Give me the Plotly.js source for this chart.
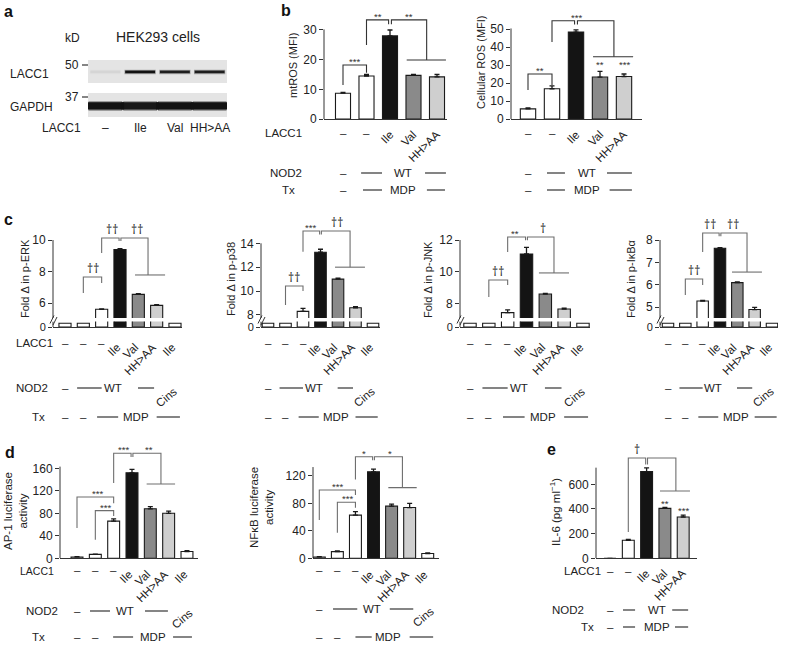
<!DOCTYPE html>
<html><head><meta charset="utf-8">
<script src="https://cdn.plot.ly/plotly-3.0.1.min.js"></script>
<style>html,body{margin:0;padding:0;background:#fff}#chart{width:788px;height:653px}</style>
</head><body><div id="chart"></div>
<script>
// ---------------- data ----------------
const blotLanes=['–','Ile','Val','HH>AA'];
const lacc1Band=[0.05,1.0,0.92,0.92];
const gapdhBand=[1.0,0.95,1.0,1.0];

const bCats=['–','–','Ile','Val','HH>AA'];
const mtROS=[8.7,14.5,28.0,14.7,14.2];
const mtROSErr=[0.3,0.5,2.0,0.3,0.8];
const cellROS=[5.6,16.8,48.3,23.3,23.6];
const cellROSErr=[0.6,1.6,1.2,3.2,1.4];

const cCats=['–','–','–','Ile','Val','HH>AA','Ile'];
const pERK=[1,1,5.6,9.4,6.55,5.85,1];
const pERKErr=[0,0,0.03,0.05,0.04,0.05,0];
const pP38=[1,1,8.3,13.25,11.0,8.6,1];
const pP38Err=[0,0,0.25,0.25,0.08,0.1,0];
const pJNK=[1,1,7.41,11.12,8.59,7.64,1];
const pJNKErr=[0,0,0.17,0.42,0.03,0.05,0];
const pIkBa=[1,1,5.28,7.63,6.1,4.9,1];
const pIkBaErr=[0,0,0.03,0.03,0.03,0.1,0];

const dCats=['–','–','–','Ile','Val','HH>AA','Ile'];
const ap1=[2.4,7,66,152,88,80,12];
const ap1Err=[0.5,0.5,4,6,4,4,1.5];
const nfkb=[2,9.7,63,126,76,74,7];
const nfkbErr=[0.5,1,5,4,3,6,1];

const eCats=['–','–','Ile','Val','HH>AA'];
const il6=[0,146,703,405,335];
const il6Err=[0,8,30,8,15];

// ---------------- helpers ----------------
const W=788,H=653;
const FONT='Liberation Sans, Arial, Helvetica, sans-serif';
const DAGFONT='Noto Sans, DejaVu Sans, sans-serif';
const INK='#222', GRAY='#6e6e6e';
const WHITE='#ffffff', BLACK='#141414', MID='#8a8a8a', LIGHT='#cfcfcf';
const bColors=[WHITE,WHITE,BLACK,MID,LIGHT];
const cColors=[WHITE,WHITE,WHITE,BLACK,MID,LIGHT,WHITE];
const LBL=11.5;

const layout={width:W,height:H,margin:{l:0,r:0,t:0,b:0},paper_bgcolor:'#fff',plot_bgcolor:'rgba(0,0,0,0)',
  showlegend:false,barmode:'overlay',font:{family:FONT,size:11,color:INK},shapes:[],annotations:[]};
const data=[];
const fx=p=>p/W, fy=p=>1-p/H;
let nAx=0;
function axes(o){
  nAx++; const id=nAx===1?'':String(nAx);
  const xn='x'+id, yn='y'+id;
  const lo=-(o.c0-o.x0)/o.s, hi=(o.n-1)+(o.x1-(o.c0+o.s*(o.n-1)))/o.s;
  const vb=o.v0-(o.yb-o.p0)/o.pu, vt=o.v0+(o.p0-o.yt)/o.pu;
  layout['xaxis'+id]={domain:[fx(o.x0),fx(o.x1)],range:[lo,hi],anchor:yn,showline:!!o.xline,linecolor:'#333',linewidth:1,
    ticks:'',showticklabels:false,showgrid:false,zeroline:false,fixedrange:true};
  layout['yaxis'+id]={domain:[fy(o.yb),fy(o.yt)],range:[vb,vt],anchor:xn,showline:false,
    ticks:o.ticks?'outside':'',ticklen:4,tickwidth:1,tickcolor:'#333',tickvals:o.ticks||[],
    showticklabels:!!o.ticks,tickfont:{family:FONT,size:o.tsize||12,color:INK},showgrid:false,zeroline:false,fixedrange:true};
  return {xa:xn,ya:yn,x0:o.x0,vb:vb};
}
function bars(ax,vals,errs,colors,width,withErr){
  const t={type:'bar',x:vals.map((_,i)=>i),y:vals,xaxis:ax.xa,yaxis:ax.ya,width:width,
    marker:{color:colors,line:{color:'#1a1a1a',width:1.1}},hoverinfo:'skip'};
  if(withErr!==false) t.error_y={type:'data',symmetric:false,array:errs,arrayminus:errs.map(()=>0),color:'#1a1a1a',thickness:1.3,width:2.5};
  data.push(t);
}
function yline(ax,v0,v1){
  layout.shapes.push({type:'line',xref:'paper',yref:ax.ya,x0:fx(ax.x0),x1:fx(ax.x0),y0:v0,y1:v1,line:{color:'#333',width:1}});
}
function path(ax,pts,color){
  layout.shapes.push({type:'path',xref:ax.xa,yref:ax.ya,path:'M'+pts.map(p=>p[0]+','+p[1]).join(' L'),
    line:{color:color,width:1.1},fillcolor:'rgba(0,0,0,0)'});
}
function ann(o){
  const f=Object.assign({family:FONT,size:LBL,color:INK},o.font||{});
  layout.annotations.push(Object.assign({showarrow:false,borderpad:0},o,{font:f}));
}
function mark(ax,x,y,t,size,shift,fam){
  ann({xref:ax.xa,yref:ax.ya,x:x,y:y,text:t,xanchor:'center',yanchor:'bottom',yshift:shift,font:{size:size,color:'#333',family:fam||FONT}});
}
function stars(ax,x,y,t){ mark(ax,x,y,t,9.5,-3); }
function dag(ax,x,y,t){ mark(ax,x,y,t,12,-1,DAGFONT); }
function pText(px,py,t,o){
  ann(Object.assign({xref:'paper',yref:'paper',x:fx(px),y:fy(py),text:t,xanchor:'center',yanchor:'middle'},o||{}));
}
function rowText(ax,x,py,t,o){
  ann(Object.assign({xref:ax.xa,yref:'paper',x:x,y:fy(py),text:t,xanchor:'center',yanchor:'middle'},o||{}));
}
function rowLine(ax,a,b,py){
  layout.shapes.push({type:'line',xref:ax.xa,yref:'paper',x0:a,x1:b,y0:fy(py),y1:fy(py),line:{color:'#333',width:1.2}});
}
function catRow(ax,cats,py,rotTop,dx){
  cats.forEach((c,i)=>{
    if(c==='–') rowText(ax,i,py,'–');
    else rowText(ax,i+dx,rotTop,c,{textangle:-45,xanchor:'right',yanchor:'top'});
  });
}
function condRow(ax,py,spec){
  spec.forEach(s=>{
    if(s.line) rowLine(ax,s.line[0],s.line[1],py);
    else rowText(ax,s.x,s.py||py,s.t,s.o||{});
  });
}
function ytitle(px,py,t,size){ pText(px,py,t,{textangle:-90,font:{size:size||11}}); }
function letter(px,py,t){ pText(px,py,'<b>'+t+'</b>',{xanchor:'left',font:{size:16,color:'#111'}}); }

// ---------------- panel a (western blot) ----------------
letter(3,12,'a');
pText(72,38,'kD',{font:{size:12}});
pText(158,37,'HEK293 cells',{font:{size:14}});
layout.shapes.push({type:'rect',layer:'below',xref:'paper',yref:'paper',x0:fx(88),x1:fx(227),y0:fy(83),y1:fy(60),fillcolor:'#e4e4e4',line:{width:0}});
layout.shapes.push({type:'rect',layer:'below',xref:'paper',yref:'paper',x0:fx(88),x1:fx(227),y0:fy(117),y1:fy(93),fillcolor:'#e4e4e4',line:{width:0}});
nAx++;
const blotId=String(nAx);
layout['xaxis'+blotId]={domain:[fx(88),fx(227)],range:[-0.5,3.5],anchor:'y'+blotId,visible:false,fixedrange:true};
layout['yaxis'+blotId]={domain:[fy(117),fy(58)],range:[117,58],anchor:'x'+blotId,visible:false,fixedrange:true};
const blotAx={xa:'x'+blotId,ya:'y'+blotId};
function band(vals,top,thick,width,alpha){
  data.push({type:'bar',x:vals.map((_,i)=>i),y:vals.map(()=>thick),base:vals.map(()=>top),xaxis:blotAx.xa,yaxis:blotAx.ya,width:width,
    marker:{color:vals.map(v=>'rgba(18,18,18,'+(v*alpha).toFixed(3)+')'),line:{width:0}},hoverinfo:'skip'});
}
band(lacc1Band,69.8,4.4,0.9,0.35);
band(lacc1Band,70.6,2.6,0.86,1.0);
band(gapdhBand,101.3,9.4,0.97,0.45);
band(gapdhBand,102.3,7.2,1.08,1.0);
pText(80,65,'50',{xanchor:'right',font:{size:12}});
pText(80,97,'37',{xanchor:'right',font:{size:12}});
layout.shapes.push({type:'line',xref:'paper',yref:'paper',x0:fx(82),x1:fx(88),y0:fy(65),y1:fy(65),line:{color:'#333',width:1.2}});
layout.shapes.push({type:'line',xref:'paper',yref:'paper',x0:fx(82),x1:fx(88),y0:fy(97),y1:fy(97),line:{color:'#333',width:1.2}});
pText(9,74,'LACC1',{xanchor:'left',font:{size:12}});
pText(9,107,'GAPDH',{xanchor:'left',font:{size:12}});
pText(41,128,'LACC1',{xanchor:'left',font:{size:12}});
blotLanes.forEach((t,i)=>rowText(blotAx,i,128,t,{font:{size:12}}));

// ---------------- panel b ----------------
letter(280,11,'b');
const axB1=axes({x0:324,x1:447,c0:343,s:23.5,n:5,yb:119,yt:15,p0:119,v0:0,pu:2.967,ticks:[0,10,20,30],xline:true});
bars(axB1,mtROS,mtROSErr,bColors,0.64);
yline(axB1,0,30.2);
ytitle(293,66,'mtROS (MFI)');
path(axB1,[[0,11.5],[0,18.2],[1,18.2],[1,15.6]],'#333'); stars(axB1,0.5,18.2,'***');
path(axB1,[[1,24.9],[1,33.4],[1.94,33.4],[1.94,31.9]],'#333');
path(axB1,[[2.06,31.9],[2.06,33.4],[3.56,33.4],[3.56,19.9]],'#333');
path(axB1,[[2.71,19.9],[4.38,19.9]],'#333');
stars(axB1,1.5,33.4,'**'); stars(axB1,2.8,33.4,'**');
catRow(axB1,bCats,133,127,0.3);
pText(303,133,'LACC1',{xanchor:'right'});
pText(303,173,'NOD2',{xanchor:'right'});
pText(296,190,'Tx',{xanchor:'right'});
condRow(axB1,173,[{x:0,t:'–'},{line:[0.77,1.66]},{x:2.55,t:'WT'},{line:[3.49,4.38]}]);
condRow(axB1,190,[{x:0,t:'–'},{line:[0.85,1.66]},{x:2.55,t:'MDP'},{line:[3.57,4.34]}]);

const axB2=axes({x0:511,x1:642,c0:528,s:24,n:5,yb:119,yt:12,p0:119,v0:0,pu:1.8,ticks:[0,10,20,30,40,50],xline:true});
bars(axB2,cellROS,cellROSErr,bColors,0.64);
yline(axB2,0,50.3);
ytitle(481,62,'Cellular ROS (MFI)');
path(axB2,[[0,16.1],[0,25],[1,25],[1,18.9]],'#333'); stars(axB2,0.5,25,'**');
path(axB2,[[1,42.8],[1,54.6],[1.94,54.6],[1.94,52.5]],'#333');
path(axB2,[[2.06,52.5],[2.06,54.6],[3.58,54.6],[3.58,34.6]],'#333');
path(axB2,[[2.71,34.6],[4.38,34.6]],'#333');
stars(axB2,2,54.6,'***');
stars(axB2,3,28.6,'**'); stars(axB2,4,28.6,'***');
catRow(axB2,bCats,133,127,0.3);
condRow(axB2,173,[{x:0,t:'–'},{line:[0.79,1.54]},{x:2.46,t:'WT'},{line:[3.29,4.33]}]);
condRow(axB2,190,[{x:0,t:'–'},{line:[0.79,1.54]},{x:2.47,t:'MDP'},{line:[3.4,4.33]}]);

// ---------------- panel c (broken axes) ----------------
letter(3,219,'c');
function cPanel(o){
  const up=axes({x0:o.x0,x1:o.x1,c0:o.c0,s:o.s,n:7,yb:318,yt:222,p0:o.p0,v0:o.v0,pu:o.pu,ticks:o.ticks,xline:false});
  bars(up,o.vals,o.errs,cColors,0.66);
  const lo=axes({x0:o.x0,x1:o.x1,c0:o.c0,s:o.s,n:7,yb:327,yt:321.5,p0:327,v0:0,pu:3.75,ticks:[0],xline:true,tsize:11});
  bars(lo,o.vals,o.errs,cColors,0.66,false);
  yline(up,up.vb,o.ticks[o.ticks.length-1]);
  yline(lo,0,5.5/3.75);
  [[o.x0-3,323.5,o.x0+1,315.5],[o.x0,325,o.x0+4,317]].forEach(s=>layout.shapes.push({type:'line',xref:'paper',yref:'paper',
    x0:fx(s[0]),y0:fy(s[1]),x1:fx(s[2]),y1:fy(s[3]),line:{color:'#333',width:1}}));
  ytitle(o.tx,279,o.title);
  const b=o.br;
  path(up,[[1,b.a[0]],[1,b.a[1]],[2,b.a[1]],[2,b.a[2]]],GRAY);
  dag(up,1.5,b.a[1],'††');
  path(up,[[2,b.l],[2,b.t],[2.95,b.t],[2.95,b.t-b.d]],GRAY);
  path(up,[[3.05,b.t-b.d],[3.05,b.t],[b.rx,b.t],[b.rx,b.g]],GRAY);
  path(up,[[b.g0,b.g],[b.g1,b.g]],GRAY);
  o.labs.forEach(l=>{ if(l[1].indexOf('*')>=0) stars(up,l[0],b.t,l[1]); else dag(up,l[0],b.t,l[1]); });
  catRow(lo,cCats,343,340,0.2);
  condRow(lo,388,[{x:0,t:'–'},{line:[0.66,2.0]},{x:2.62,t:'WT'},{line:[3.98,4.86]},
    {x:6.32,py:384,t:'Cins',o:{textangle:-40,xanchor:'right',yanchor:'top'}}]);
  condRow(lo,417,[{x:0,t:'–'},{x:1,t:'–'},{line:[1.75,2.9]},{x:3.9,t:'MDP'},{line:[5.0,6.27]}]);
  return lo;
}
cPanel({x0:53,x1:182,c0:65,s:18.33,p0:240,v0:10,pu:15.75,ticks:[6,8,10],vals:pERK,errs:pERKErr,tx:25,title:'Fold Δ in p-ERK',
  br:{a:[6.63,7.65,7.27],l:9.17,t:10.13,d:0.2,rx:4.53,g:7.78,g0:3.82,g1:5.46},labs:[[2.56,'††'],[3.93,'††']]});
cPanel({x0:261,x1:380,c0:268,s:17.5,p0:243.3,v0:14,pu:11.94,ticks:[8,10,12,14],vals:pP38,errs:pP38Err,tx:231,title:'Fold Δ in p-p38',
  br:{a:[8.83,10.42,10.0],l:13.3,t:15.03,d:0.3,rx:4.69,g:12.0,g0:3.83,g1:5.54},labs:[[2.4,'***'],[3.94,'††']]});
cPanel({x0:460,x1:590,c0:470,s:18.83,p0:240,v0:12,pu:15.83,ticks:[8,10,12],vals:pJNK,errs:pJNKErr,tx:428,title:'Fold Δ in p-JNK',
  br:{a:[8.4,9.47,9.16],l:11.24,t:12.19,d:0.2,rx:4.46,g:9.92,g0:3.66,g1:5.26},labs:[[2.39,'**'],[3.88,'†']]});
cPanel({x0:660,x1:778,c0:668,s:17.33,p0:240,v0:8,pu:22.43,ticks:[5,6,7,8],vals:pIkBa,errs:pIkBaErr,tx:631,title:'Fold Δ in p-IκBα',
  br:{a:[5.55,6.26,5.99],l:7.47,t:8.31,d:0.14,rx:4.56,g:6.57,g0:3.69,g1:5.42},labs:[[2.42,'††'],[3.75,'††']]});
pText(15,343,'LACC1',{xanchor:'left'});
pText(15,388,'NOD2',{xanchor:'left'});
pText(46,417,'Tx',{xanchor:'right'});

// ---------------- panel d ----------------
letter(4,452,'d');
const axD1=axes({x0:60,x1:198,c0:77,s:18.33,n:7,yb:558.3,yt:442,p0:558.3,v0:0,pu:0.5625,ticks:[0,40,80,120,160],xline:true});
bars(axD1,ap1,ap1Err,cColors,0.65);
yline(axD1,0,163);
ytitle(15,511,'AP-1 luciferase<br>activity',11.5);
path(axD1,[[0,54],[0,109],[2,109],[2,98]],GRAY); stars(axD1,1.1,109,'***');
path(axD1,[[1,33],[1,84.7],[2,84.7],[2,75]],GRAY); stars(axD1,1.55,84.7,'***');
path(axD1,[[2,134],[2,186.7],[2.95,186.7],[2.95,180]],GRAY);
path(axD1,[[3.05,180],[3.05,186.7],[4.58,186.7],[4.58,132]],GRAY);
path(axD1,[[3.8,132],[5.35,132]],GRAY);
stars(axD1,2.53,186.7,'***'); stars(axD1,3.93,186.7,'**');
catRow(axD1,dCats,570,567,0.2);
condRow(axD1,611,[{x:0,t:'–'},{line:[0.71,1.8]},{x:2.62,t:'WT'},{line:[3.71,4.96]},
  {x:6.5,py:606,t:'Cins',o:{textangle:-40,xanchor:'right',yanchor:'top'}}]);
condRow(axD1,637,[{x:0,t:'–'},{x:1,t:'–'},{line:[1.97,3.06]},{x:4.15,t:'MDP'},{line:[5.24,6.27]}]);
pText(19,571,'LACC1',{xanchor:'left',font:{size:10.5}});
pText(25,611,'NOD2',{xanchor:'left'});
pText(46,637,'Tx',{xanchor:'right'});

const axD2=axes({x0:313,x1:439,c0:319.3,s:18.07,n:7,yb:558.3,yt:445,p0:558.3,v0:0,pu:0.686,ticks:[0,40,80,120],xline:true});
bars(axD2,nfkb,nfkbErr,cColors,0.66);
yline(axD2,0,133);
ytitle(261,508,'NFκB luciferase<br>activity',11.5);
path(axD2,[[0,55.8],[0,99.6],[2,99.6],[2,92.3]],GRAY); stars(axD2,1.0,99.6,'***');
path(axD2,[[1,37.3],[1,81.6],[2,81.6],[2,73.8]],GRAY); stars(axD2,1.57,81.6,'***');
path(axD2,[[2,115],[2,148],[2.95,148],[2.95,143]],GRAY);
path(axD2,[[3.05,143],[3.05,148],[4.6,148],[4.6,103]],GRAY);
path(axD2,[[3.82,103],[5.39,103]],GRAY);
stars(axD2,2.49,148,'*'); stars(axD2,3.91,148,'*');
catRow(axD2,dCats,570,567,0.2);
condRow(axD2,609,[{x:0,t:'–'},{line:[0.76,2.1]},{x:2.9,t:'WT'},{line:[3.9,5.2]},
  {x:6.55,py:604,t:'Cins',o:{textangle:-40,xanchor:'right',yanchor:'top'}}]);
condRow(axD2,637,[{x:0,t:'–'},{x:1,t:'–'},{line:[2.0,2.9]},{x:3.82,t:'MDP'},{line:[5.0,6.3]}]);

// ---------------- panel e ----------------
letter(546,449,'e');
const axE=axes({x0:596,x1:697,c0:610,s:18.3,n:5,yb:558.3,yt:450,p0:558.3,v0:0,pu:0.1233,ticks:[0,200,400,600],xline:true});
bars(axE,il6,il6Err,bColors,0.65);
yline(axE,0,735);
ytitle(555,512,'IL-6 (pg ml<sup>−1</sup>)',11.5);
path(axE,[[1,213],[1,813],[1.95,813],[1.95,760]],GRAY);
path(axE,[[2.05,760],[2.05,813],[3.6,813],[3.6,546]],GRAY);
path(axE,[[2.73,546],[4.37,546]],GRAY);
dag(axE,1.5,813,'†');
stars(axE,3,420,'**'); stars(axE,4,356,'***');
catRow(axE,eCats,571,566,0.35);
condRow(axE,610,[{x:0,t:'–'},{line:[0.71,1.37]},{x:2.57,t:'WT'},{line:[3.4,4.27]}]);
condRow(axE,627,[{x:0,t:'–'},{line:[0.71,1.37]},{x:2.57,t:'MDP'},{line:[3.55,4.27]}]);
pText(602,571,'LACC1',{xanchor:'right'});
pText(585,610,'NOD2',{xanchor:'right'});
pText(595,627,'Tx',{xanchor:'right'});

Plotly.newPlot('chart',data,layout,{staticPlot:true,displayModeBar:false});
</script>
</body></html>
